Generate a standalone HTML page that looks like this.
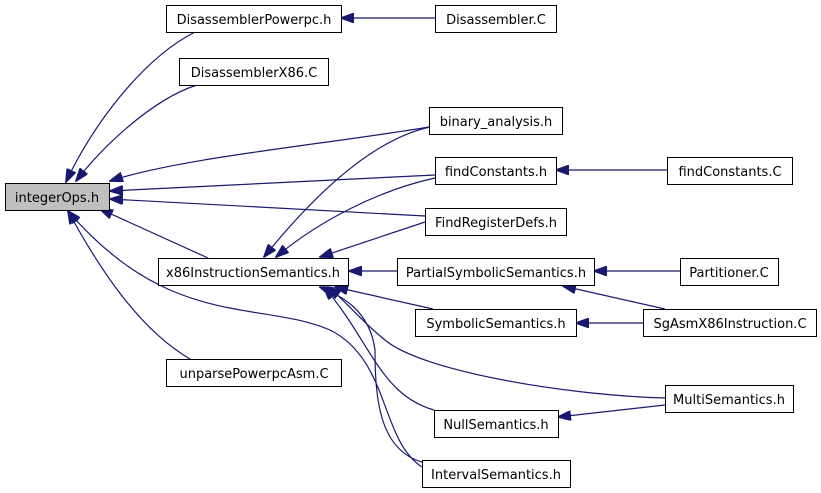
<!DOCTYPE html>
<html><head><style>
html,body{margin:0;padding:0;background:#fff;}
svg{display:block}
text{font-family:"DejaVu Sans","Liberation Sans",sans-serif;font-size:13px;fill:#000}
</style></head><body>
<svg width="821" height="493" viewBox="0 0 821 493">
<defs>
<marker id="a" markerWidth="14" markerHeight="10" refX="13" refY="5" orient="auto" markerUnits="userSpaceOnUse">
<polygon points="0,0 14,5 0,10" fill="#191970" stroke="#191970"/>
</marker>
</defs>
<g fill="none" stroke="#191970" stroke-width="1.2" marker-end="url(#a)">
<path d="M195,32 C140,60 90,130 66,182"/>
<path d="M197,85 C150,100 100,150 76,181"/>
<path d="M429,127 C320,145 180,158 110,181"/>
<path d="M435,175 L110,191"/>
<path d="M425,216 L110,199"/>
<path d="M208,258 L100,209"/>
<path d="M422,467 C380,440 390,360 330,330 C260,300 170,330 68,211"/>
<path d="M190,359 C140,330 100,270 68,211"/>
<path d="M435,18 L341,18"/>
<path d="M667,170 L556,170"/>
<path d="M430,127 C370,140 310,200 264,257"/>
<path d="M435,178 C380,190 320,220 276,257"/>
<path d="M425,222 L320,257"/>
<path d="M397,271 L349,271"/>
<path d="M680,271 L594,271"/>
<path d="M665,309 L563,286"/>
<path d="M643,323 L576,323"/>
<path d="M433,309 L335,287"/>
<path d="M665,398 C560,395 420,370 385,340 C360,320 345,300 328,287"/>
<path d="M665,405 L558,417"/>
<path d="M434,410 C380,395 370,340 324,287"/>
<path d="M422,462 C380,450 375,400 375,350 C370,310 340,295 320,287"/>
</g>
<g stroke="#000" stroke-width="1">
<rect x="5.5" y="183.5" width="104" height="27" fill="#bfbfbf"/>
<rect x="166.5" y="5.5" width="175" height="27" fill="#fff"/>
<rect x="435.5" y="5.5" width="121" height="27" fill="#fff"/>
<rect x="179.5" y="58.5" width="149" height="27" fill="#fff"/>
<rect x="429.5" y="107.5" width="133" height="27" fill="#fff"/>
<rect x="435.5" y="157.5" width="121" height="27" fill="#fff"/>
<rect x="667.5" y="157.5" width="125" height="27" fill="#fff"/>
<rect x="425.5" y="208.5" width="141" height="27" fill="#fff"/>
<rect x="158.5" y="258.5" width="190" height="27" fill="#fff"/>
<rect x="397.5" y="258.5" width="197" height="27" fill="#fff"/>
<rect x="680.5" y="258.5" width="98" height="27" fill="#fff"/>
<rect x="415.5" y="309.5" width="161" height="27" fill="#fff"/>
<rect x="643.5" y="309.5" width="173" height="27" fill="#fff"/>
<rect x="166.5" y="359.5" width="175" height="27" fill="#fff"/>
<rect x="665.5" y="385.5" width="128" height="27" fill="#fff"/>
<rect x="434.5" y="410.5" width="124" height="27" fill="#fff"/>
<rect x="422.5" y="460.5" width="148" height="27" fill="#fff"/>
</g>
<g text-anchor="middle">
<text x="57" y="202">integerOps.h</text>
<text x="254" y="24">DisassemblerPowerpc.h</text>
<text x="496" y="24">Disassembler.C</text>
<text x="254" y="77">DisassemblerX86.C</text>
<text x="496" y="126">binary_analysis.h</text>
<text x="496" y="176">findConstants.h</text>
<text x="730" y="176">findConstants.C</text>
<text x="496" y="227">FindRegisterDefs.h</text>
<text x="253" y="277">x86InstructionSemantics.h</text>
<text x="496" y="277">PartialSymbolicSemantics.h</text>
<text x="729" y="277">Partitioner.C</text>
<text x="496" y="328">SymbolicSemantics.h</text>
<text x="730" y="328">SgAsmX86Instruction.C</text>
<text x="254" y="378">unparsePowerpcAsm.C</text>
<text x="729" y="404">MultiSemantics.h</text>
<text x="496" y="429">NullSemantics.h</text>
<text x="496" y="479">IntervalSemantics.h</text>
</g>
</svg>
</body></html>
